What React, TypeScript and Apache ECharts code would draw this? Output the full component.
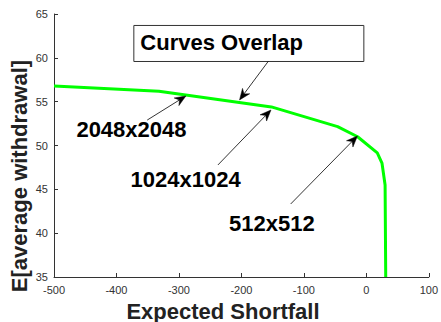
import React, { useEffect, useRef } from "react";
import * as echarts from "echarts";

// Curve (all three resolutions overlap)
const xValues = [-500, -332, -152, -46, -14, 17.5, 25, 30, 31];
const yValues = [56.8, 56.2, 54.4, 52.15, 51.0, 49.15, 48.0, 45.5, 35];

const xTickMin = -500;
const xTickMax = 100;
const xTickStep = 100;
const yTickMin = 35;
const yTickMax = 65;
const yTickStep = 5;

const xAxisTitle = "Expected Shortfall";
const yAxisTitle = "E[average withdrawal]";

// Annotation labels (data coordinates)
const boxLabel = { text: "Curves Overlap", left: -373, right: -4.8, top: 63.75, bottom: 59.64 };
const arrows = [
  { tail: [-157, 59.6], head: [-203, 55.2] },
  { tail: [-350.8, 52.9], head: [-288.9, 55.65] },
  { tail: [-237.6, 47.78], head: [-152.7, 54.05] },
  { tail: [-121.1, 43.33], head: [-14.3, 51.08] },
];
const textLabels = [
  { text: "2048x2048", at: [-376, 51.8] },
  { text: "1024x1024", at: [-289.4, 46.07] },
  { text: "512x512", at: [-151.3, 41.1] },
];

const FONT = "'Liberation Sans', Arial, Helvetica, sans-serif";

export default function App() {
  const ref = useRef<HTMLDivElement>(null);
  useEffect(() => {
    if (!ref.current) return;
    const chart = echarts.init(ref.current, null, { renderer: "svg" });
    const axisColor = "#333";
    chart.setOption({
      animation: false,
      grid: { left: 54, right: 9, top: 14, bottom: 45 },
      xAxis: {
        type: "value",
        min: xTickMin,
        max: xTickMax,
        interval: xTickStep,
        axisLine: { onZero: false, lineStyle: { color: axisColor, width: 1 } },
        axisTick: { inside: true, length: 4, lineStyle: { color: axisColor } },
        axisLabel: { fontSize: 11, color: "#333", margin: 7, fontFamily: FONT },
        splitLine: { show: false },
      },
      yAxis: {
        type: "value",
        min: yTickMin,
        max: yTickMax,
        interval: yTickStep,
        axisLine: { show: true, onZero: false, lineStyle: { color: axisColor, width: 1 } },
        axisTick: { show: true, inside: true, length: 4, lineStyle: { color: axisColor } },
        axisLabel: { fontSize: 11, color: "#333", margin: 6, fontFamily: FONT },
        splitLine: { show: false },
      },
      series: [
        {
          type: "line",
          data: xValues.map((x, i) => [x, yValues[i]]),
          showSymbol: false,
          smooth: false,
          lineStyle: { color: "#00ff00", width: 3 },
          itemStyle: { color: "#00ff00" },
        },
      ],
    });

    const px = (p: number[]) => chart.convertToPixel({ gridIndex: 0 }, p) as number[];
    const elements: any[] = [];

    // Axis titles
    elements.push({
      type: "text",
      x: 223,
      y: 311,
      style: {
        text: xAxisTitle,
        font: `bold 22px ${FONT}`,
        fill: "#222",
        textAlign: "center",
        textVerticalAlign: "middle",
        verticalAlign: "middle",
      },
    });
    elements.push({
      type: "text",
      x: 19,
      y: 176,
      rotation: Math.PI / 2,
      style: {
        text: yAxisTitle,
        font: `bold 22px ${FONT}`,
        fill: "#222",
        textAlign: "center",
        textVerticalAlign: "middle",
        verticalAlign: "middle",
      },
    });

    // Box label
    const tl = px([boxLabel.left, boxLabel.top]);
    const br = px([boxLabel.right, boxLabel.bottom]);
    elements.push({
      type: "rect",
      shape: { x: tl[0] + 0.5, y: tl[1] + 0.5, width: br[0] - tl[0], height: br[1] - tl[1] },
      style: { fill: "#fff", stroke: "#333", lineWidth: 1 },
      z: 10,
    });
    elements.push({
      type: "text",
      x: tl[0] + 7,
      y: (tl[1] + br[1]) / 2,
      style: {
        text: boxLabel.text,
        font: `bold 22px ${FONT}`,
        fill: "#000",
        textAlign: "left",
        textVerticalAlign: "middle",
        verticalAlign: "middle",
      },
      z: 11,
    });

    // Arrows
    arrows.forEach((a) => {
      const t = px(a.tail);
      const h = px(a.head);
      const dx = h[0] - t[0];
      const dy = h[1] - t[1];
      const len = Math.sqrt(dx * dx + dy * dy);
      const ux = dx / len;
      const uy = dy / len;
      const nx = -uy;
      const ny = ux;
      const L = 11;
      const W = 4.5;
      const indent = 3.5;
      const back = [h[0] - ux * L, h[1] - uy * L];
      const inner = [h[0] - ux * (L - indent), h[1] - uy * (L - indent)];
      elements.push({
        type: "line",
        shape: { x1: t[0], y1: t[1], x2: inner[0], y2: inner[1] },
        style: { stroke: "#000", lineWidth: 0.8 },
        z: 10,
      });
      elements.push({
        type: "polygon",
        shape: {
          points: [
            [h[0], h[1]],
            [back[0] + nx * W, back[1] + ny * W],
            [inner[0], inner[1]],
            [back[0] - nx * W, back[1] - ny * W],
          ],
        },
        style: { fill: "#000", stroke: "#000", lineWidth: 0.5 },
        z: 10,
      });
    });

    // Text labels
    textLabels.forEach((l) => {
      const p = px(l.at);
      elements.push({
        type: "text",
        x: p[0],
        y: p[1],
        style: {
          text: l.text,
          font: `bold 22px ${FONT}`,
          fill: "#000",
          textAlign: "center",
          textVerticalAlign: "middle",
          verticalAlign: "middle",
        },
        z: 11,
      });
    });

    chart.setOption({ graphic: elements });
    return () => chart.dispose();
  }, []);

  return (
    <div
      ref={ref}
      style={{ position: "fixed", left: 0, top: 0, width: 441, height: 322, background: "#fff" }}
    />
  );
}
